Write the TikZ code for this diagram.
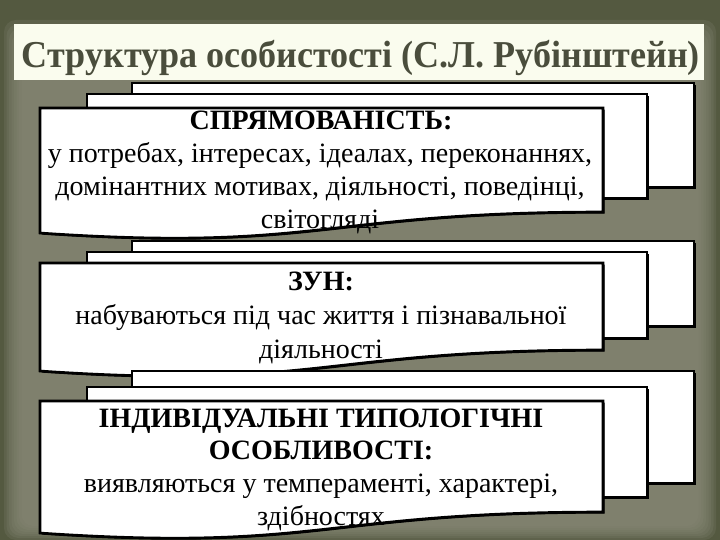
\documentclass[tikz,border=0pt]{standalone}
\usepackage{fontspec}
\setmainfont{Liberation Serif}
\usetikzlibrary{shadows}
\definecolor{bgolive}{RGB}{84,89,64}
\definecolor{bggray}{RGB}{138,138,120}
\definecolor{titlebar}{RGB}{250,252,238}
\definecolor{titletext}{RGB}{74,77,60}
\tikzset{
  page/.style={draw=black, line width=2.6pt, fill=white, line join=miter,
    drop shadow={shadow xshift=1.6pt, shadow yshift=-1.6pt, opacity=1, fill=black}},
  bodytext/.style={anchor=base, inner sep=0pt, font=\fontsize{28}{32}\selectfont, text=black},
  headtext/.style={bodytext, font=\fontsize{28}{32}\selectfont\bfseries}
}
% #1 back top, #2 back bottom, #3 middle top, #4 middle bottom, #5 front top, #6 front bottom (right)
\newcommand\paperstack[6]{%
  \path[page] (132,#1) rectangle (694,#2);
  \path[page] (87,#3) rectangle (647,#4);
  \path[page] (40,#5) -- (603,#5) -- (603,#6) .. controls (321,#6) and (321,{#6+40}) .. (40,{#6+21}) -- cycle;
}
\begin{document}
\begin{tikzpicture}[x=1pt,y=-1pt]
\useasboundingbox (0,0) rectangle (720,540);
% background
\fill[bgolive] (0,0) rectangle (720,540);
\foreach \i in {0,...,7}{
  \fill[bggray, opacity=0.2, rounded corners=12] ({4+2.5*\i},{20+4*\i}) rectangle ({716-2.5*\i},{540-2*\i});
}
% title bar
\fill[titlebar] (14,24) rectangle (704,80);
\node[anchor=base, inner sep=0pt, text=titletext, font=\fontsize{38}{40}\selectfont\bfseries] (title) at (361,68)
  {\resizebox{678pt}{\height}{Структура особистості (С.Л. Рубінштейн)}};
% group 1
\paperstack{83}{187}{94}{198}{108}{212}
\node[headtext] (h1) at (321,130) {СПРЯМОВАНІСТЬ:};
\node[bodytext] (a1) at (320,163) {у потребах, інтересах, ідеалах, переконаннях,};
\node[bodytext] (a2) at (320,196) {домінантних мотивах, діяльності, поведінці,};
\node[bodytext] (a3) at (320,229) {світогляді};
% group 2
\paperstack{241}{326}{252}{338}{263}{350}
\node[headtext] (h2) at (321,290) {ЗУН:};
\node[bodytext] (b1) at (321,324) {набуваються під час життя і пізнавальної};
\node[bodytext] (b2) at (321,358) {діяльності};
% group 3
\paperstack{371}{483}{387}{497}{401}{512}
\node[headtext] (h3) at (321,427) {ІНДИВІДУАЛЬНІ ТИПОЛОГІЧНІ};
\node[headtext] (h4) at (321,459) {ОСОБЛИВОСТІ:};
\node[bodytext] (c1) at (321,492) {виявляються у темпераменті, характері,};
\node[bodytext] (c2) at (321,525) {здібностях};
\end{tikzpicture}
\end{document}
